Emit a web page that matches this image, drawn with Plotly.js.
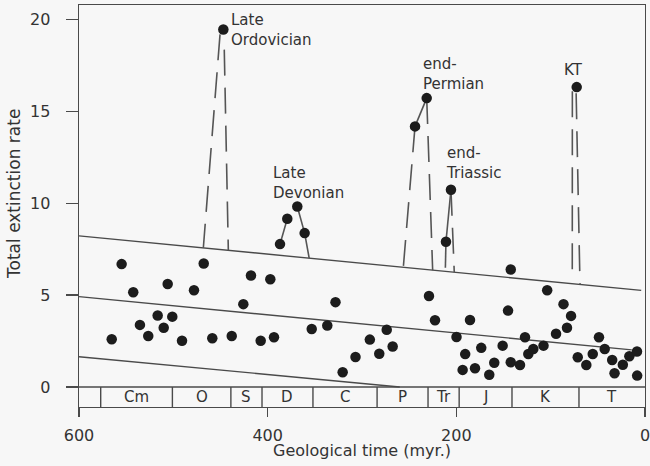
<!DOCTYPE html>
<html>
<head>
<meta charset="utf-8">
<script src="https://cdn.plot.ly/plotly-3.0.1.min.js"></script>
<style>html,body{margin:0;padding:0;background:#f7f7f7;}#chart{width:650px;height:466px;}</style>
</head>
<body>
<div id="chart"></div>
<script>
// ---- data (geological time in myr, total extinction rate) ----
const extinctionTime = [565.3,554.8,542.5,535.4,526.6,516.6,510.2,506.0,501.1,490.8,478.1,467.8,458.7,447.0,438.1,425.8,417.7,407.4,397.2,393.3,
  386.9,379.2,368.6,360.8,353.3,336.8,328.1,320.5,306.9,291.7,281.7,273.8,267.5,
  243.8,231.4,229.0,222.6,211.0,205.7,199.8,
  193.3,190.6,185.5,180.2,173.6,165.1,159.8,150.9,145.2,142.3,142.3,132.5,127.2,123.7,118.4,107.6,103.7,94.3,86.4,82.7,78.4,
  72.4,71.3,62.2,55.4,48.8,42.7,34.8,32.3,23.5,16.6,8.5,8.3];
const extinctionRate = [2.60,6.69,5.16,3.38,2.78,3.89,3.23,5.61,3.83,2.52,5.27,6.72,2.65,19.47,2.78,4.51,6.07,2.52,5.87,2.71,
  7.78,9.16,9.83,8.38,3.16,3.35,4.62,0.80,1.63,2.58,1.81,3.12,2.20,
  14.19,15.73,4.95,3.63,7.91,10.74,2.72,
  0.93,1.79,3.65,1.02,2.13,0.67,1.32,2.25,4.16,6.40,1.35,1.20,2.71,1.80,2.07,2.25,5.27,2.90,4.51,3.23,3.87,
  16.33,1.62,1.20,1.80,2.71,2.07,1.47,0.75,1.21,1.67,1.93,0.62];

// trend band lines
const bandUpperTime = [600, 4];
const bandUpperRate = [8.23, 5.26];
const bandMiddleTime = [600, 14];
const bandMiddleRate = [4.92, 2.02];
const bandLowerTime = [600, 260];
const bandLowerRate = [1.65, 0.0];

// dashed connectors from the band to the mass-extinction peaks
const peakDashTime = [450.5,468.2,null, 446.0,441.7,null, 231.4,243.8,null, 243.8,256.2,null, 231.4,225.1,null, 205.7,202.2,null, 211.0,211.7,null, 77.0,77.1,null, 73.0,68.9];
const peakDashRate = [19.2,7.57,null, 18.37,7.44,null, 15.73,14.19,null, 14.19,6.52,null, 15.73,6.36,null, 10.74,6.25,null, 7.91,6.29,null, 16.1,6.05,null, 16.0,5.58];
// solid connectors (Late Devonian, end-Triassic)
const peakSolidTime = [386.9,379.2,null, 368.6,360.8,356.0,null, 205.7,211.0];
const peakSolidRate = [7.78,9.16,null, 9.83,8.38,7.02,null, 10.74,7.91];

// event labels
const eventLabels = ['Late<br>Ordovician','Late<br>Devonian','end-<br>Permian','end-<br>Triassic','KT'];
const eventLabelTime = [441.0,396.5,237.0,213.6,75.3];
const eventLabelRate = [19.46,11.09,17.06,12.18,17.28];

// geological periods strip
const periodNames = ['Cm','O','S','D','C','P','Tr','J','K','T'];
const periodStart = [577,501,439,406,352,284,230,197,141,70];
const periodEnd   = [501,439,406,352,284,230,197,141,70,0];

const xTicks = [600,400,200,0];
const yTicks = [0,5,10,15,20];

const ink = '#333333';
const lineCol = '#4a4a4a';
const stripBottom = -1.09;
const fam = '"DejaVu Sans", Verdana, sans-serif';

const traces = [
  {x: bandUpperTime, y: bandUpperRate, mode:'lines', line:{color:lineCol, width:1.4}, hoverinfo:'skip'},
  {x: bandMiddleTime, y: bandMiddleRate, mode:'lines', line:{color:lineCol, width:1.4}, hoverinfo:'skip'},
  {x: bandLowerTime, y: bandLowerRate, mode:'lines', line:{color:lineCol, width:1.4}, hoverinfo:'skip'},
  {x: peakDashTime, y: peakDashRate, mode:'lines', connectgaps:false, line:{color:'#555', width:1.6, dash:'26px,12px'}, hoverinfo:'skip'},
  {x: peakSolidTime, y: peakSolidRate, mode:'lines', connectgaps:false, line:{color:'#555', width:1.6}, hoverinfo:'skip'},
  {x: extinctionTime, y: extinctionRate, mode:'markers', marker:{color:'#1c1c1c', size:10.5}}
];

const shapes = [];
shapes.push({type:'line', xref:'x', yref:'y', x0:600, x1:0, y0:0, y1:0, line:{color:lineCol, width:1.4}});
periodStart.forEach(function(s){
  shapes.push({type:'line', xref:'x', yref:'y', x0:s, x1:s, y0:0, y1:stripBottom, line:{color:lineCol, width:1.4}});
});

const annotations = [];
eventLabels.forEach(function(t,i){
  annotations.push({x:eventLabelTime[i], y:eventLabelRate[i], xref:'x', yref:'y', text:t, showarrow:false,
    xanchor: i===4 ? 'center' : 'left', yanchor:'middle', align:'left', font:{size:15, color:ink}});
});
periodNames.forEach(function(p,i){
  annotations.push({x:(periodStart[i]+periodEnd[i])/2, y:stripBottom/2, xref:'x', yref:'y', text:p, showarrow:false,
    xanchor:'center', yanchor:'middle', font:{size:15, color:ink}});
});
// axis titles placed as in the reference
annotations.push({x:0.5, y:-0.107, xref:'paper', yref:'paper', text:'Geological time (myr.)', showarrow:false,
  xanchor:'center', yanchor:'middle', font:{size:16, color:ink}});
annotations.push({x:-0.1148, y:0.53, xref:'paper', yref:'paper', text:'Total extinction rate', showarrow:false,
  textangle:-90, xanchor:'center', yanchor:'middle', font:{size:17, color:ink}});

const layout = {
  width:650, height:466,
  margin:{l:79, r:5, t:5, b:59},
  paper_bgcolor:'#f7f7f7', plot_bgcolor:'#f7f7f7',
  showlegend:false,
  font:{family:fam, color:ink, size:16},
  xaxis:{range:[600,0], tickvals:xTicks, ticks:'outside', ticklen:9, tickwidth:1.4, tickcolor:lineCol,
    showline:true, linecolor:lineCol, linewidth:1.4, mirror:true, showgrid:false, zeroline:false,
    ticklabeloverflow:'allow',
    tickfont:{family:fam, size:16, color:ink}, ticklabelstandoff:4},
  yaxis:{range:[stripBottom,20.8], tickvals:yTicks, ticks:'outside', ticklen:12, tickwidth:1.4, tickcolor:lineCol,
    showline:true, linecolor:lineCol, linewidth:1.4, mirror:true, showgrid:false, zeroline:false,
    tickfont:{family:fam, size:16, color:ink}, ticklabelstandoff:12},
  shapes:shapes,
  annotations:annotations
};

Plotly.newPlot('chart', traces, layout, {displayModeBar:false, staticPlot:true});
</script>
</body>
</html>
